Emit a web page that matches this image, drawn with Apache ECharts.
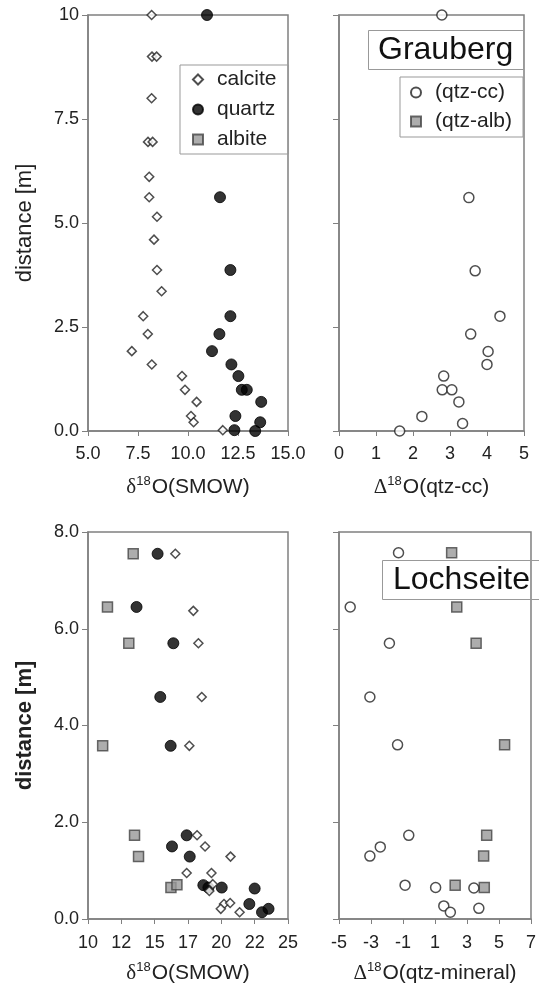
<!DOCTYPE html>
<html>
<head>
<meta charset="utf-8">
<script src="https://cdn.jsdelivr.net/npm/echarts@6/dist/echarts.min.js"></script>
<style>
  html, body { margin: 0; padding: 0; background: #fff; }
  #chart { width: 539px; height: 985px; }
</style>
</head>
<body>
<div id="chart"></div>
<script>
// Grauberg (top): [delta18O, distance]
const calciteTop = [[8.18,10],[8.2,9.0],[8.43,9.0],[8.18,8.0],[8.0,6.95],[8.23,6.95],[8.06,6.11],[8.06,5.62],[8.45,5.15],[8.3,4.6],[8.45,3.87],[8.68,3.36],[7.76,2.76],[7.99,2.33],[7.19,1.92],[8.19,1.6],[9.7,1.32],[9.85,0.99],[10.43,0.7],[10.15,0.36],[10.28,0.21],[11.74,0.02]];
const quartzTop = [[10.95,10],[11.6,5.62],[12.12,3.87],[12.12,2.76],[11.57,2.33],[11.2,1.92],[12.17,1.6],[12.52,1.32],[12.69,0.99],[12.94,0.99],[13.66,0.7],[12.37,0.36],[13.61,0.21],[12.32,0.02],[13.36,0.0]];
const qtzCcTop = [[2.78,10],[3.51,5.61],[3.68,3.85],[4.35,2.76],[3.56,2.33],[4.03,1.91],[4.0,1.6],[2.83,1.32],[2.79,0.99],[3.05,0.99],[3.24,0.7],[2.24,0.35],[3.34,0.18],[1.64,0.0]];

// Lochseite (bottom)
const calciteBot = [[16.55,7.55],[17.9,6.37],[18.28,5.7],[18.53,4.59],[17.6,3.58],[18.18,1.73],[18.78,1.5],[20.69,1.29],[17.4,0.95],[19.26,0.95],[19.36,0.72],[19.1,0.58],[20.2,0.31],[20.66,0.33],[19.96,0.21],[21.37,0.14]];
const quartzBot = [[15.22,7.55],[13.64,6.45],[16.4,5.7],[15.42,4.59],[16.2,3.58],[17.4,1.73],[16.3,1.5],[17.63,1.29],[18.65,0.7],[19.03,0.65],[20.03,0.65],[22.5,0.63],[22.1,0.31],[23.05,0.14],[23.54,0.21]];
const albiteBot = [[13.39,7.55],[11.46,6.45],[13.06,5.7],[11.1,3.58],[13.49,1.73],[13.79,1.29],[16.22,0.65],[16.67,0.71]];
const qtzCcBot = [[-1.28,7.57],[-4.3,6.45],[-1.85,5.7],[-3.07,4.59],[-1.34,3.6],[-0.64,1.73],[-2.42,1.49],[-3.07,1.3],[-0.87,0.7],[1.04,0.65],[3.43,0.64],[1.55,0.27],[1.96,0.14],[3.74,0.22]];
const qtzAlbBot = [[2.04,7.57],[2.36,6.45],[3.57,5.7],[5.35,3.6],[4.23,1.73],[4.04,1.3],[2.26,0.7],[4.08,0.65]];

const mineralLegend = ['calcite', 'quartz', 'albite'];
const deltaLegend = ['(qtz-cc)', '(qtz-alb)'];

const FONT = '"Liberation Sans", Arial, sans-serif';
const AXIS = '#808080';

const styles = {
  calcite: { symbol: 'diamond', symbolSize: 9, itemStyle: { color: '#fff', borderColor: '#222', borderWidth: 1.5 } },
  quartz: { symbol: 'circle', symbolSize: 11, itemStyle: { color: '#000', borderColor: '#000', borderWidth: 1 } },
  albite: { symbol: 'rect', symbolSize: 10, itemStyle: { color: '#999', borderColor: '#444', borderWidth: 1.5 } },
  '(qtz-cc)': { symbol: 'circle', symbolSize: 10, itemStyle: { color: '#fff', borderColor: '#222', borderWidth: 1.5 } },
  '(qtz-alb)': { symbol: 'rect', symbolSize: 10, itemStyle: { color: '#999', borderColor: '#444', borderWidth: 1.5 } }
};

function scatter(name, data, idx) {
  return Object.assign({
    name: name, type: 'scatter', data: data,
    xAxisIndex: idx, yAxisIndex: idx, clip: false
  }, styles[name]);
}

const nameRich = {
  a: { fontSize: 21, fontFamily: FONT, color: '#222' },
  g: { fontSize: 21, fontFamily: '"Liberation Serif", serif', color: '#222' },
  s: { fontSize: 13, fontFamily: FONT, color: '#222', padding: [0, 1, 12, 0] }
};

function xAxis(idx, min, max, interval, fmt, name, gap, margin) {
  return {
    gridIndex: idx, type: 'value', min: min, max: max, interval: interval,
    name: name, nameLocation: 'middle', nameGap: gap,
    nameTextStyle: { rich: nameRich },
    axisLine: { onZero: false, lineStyle: { color: AXIS, width: 1.5 } },
    axisTick: { show: true, length: 5, lineStyle: { color: AXIS } },
    axisLabel: { formatter: fmt, fontSize: 18, fontFamily: FONT, color: '#222', margin: margin },
    splitLine: { show: false }
  };
}

function yAxis(idx, max, interval, fmt, showLabels, name, bold) {
  return {
    gridIndex: idx, type: 'value', min: 0, max: max, interval: interval,
    name: name || '', nameLocation: 'middle', nameGap: 52,
    nameTextStyle: { fontSize: 22, fontFamily: FONT, color: '#222', fontWeight: bold ? 'bold' : 'normal' },
    axisLine: { onZero: false, lineStyle: { color: AXIS, width: 1.5 } },
    axisTick: { show: true, length: 6, lineStyle: { color: AXIS } },
    axisLabel: { show: showLabels, formatter: fmt, fontSize: 18, fontFamily: FONT, color: '#222', margin: 9 },
    splitLine: { show: false }
  };
}

const chart = echarts.init(document.getElementById('chart'), null, { renderer: 'canvas' });

const deltaName = '{g|δ}{s|18}{a|O(SMOW)}';
const gridBase = { show: true, borderColor: AXIS, borderWidth: 1.5, containLabel: false };
const legendText = { fontSize: 21, fontFamily: FONT, color: '#222', padding: [0, 0, 0, 9] };

chart.setOption({
  animation: false,
  backgroundColor: '#fff',
  grid: [
    Object.assign({ left: 88, top: 15, width: 200, height: 416 }, gridBase),
    Object.assign({ left: 339, top: 15, width: 185, height: 416 }, gridBase),
    Object.assign({ left: 88, top: 532, width: 200, height: 388 }, gridBase),
    Object.assign({ left: 339, top: 532, width: 196, height: 388 }, gridBase)
  ],
  xAxis: [
    xAxis(0, 5, 15, 2.5, v => v.toFixed(1), deltaName, 44, 14),
    xAxis(1, 0, 5, 1, v => String(v), '{g|Δ}{s|18}{a|O(qtz-cc)}', 44, 14),
    xAxis(2, 10, 25, 2.5, v => String(Math.floor(v)), deltaName, 42, 15),
    xAxis(3, -5, 7, 2, v => String(v), '{g|Δ}{s|18}{a|O(qtz-mineral)}', 42, 15)
  ],
  yAxis: [
    yAxis(0, 10, 2.5, v => (v === 10 ? '10' : v.toFixed(1)), true, 'distance [m]', false),
    yAxis(1, 10, 2.5, null, false),
    yAxis(2, 8, 2, v => v.toFixed(1), true, 'distance [m]', true),
    yAxis(3, 8, 2, null, false)
  ],
  title: [
    { text: 'Grauberg', left: 368, top: 30, padding: [4, 11, 4, 10], borderColor: '#999', borderWidth: 1,
      textStyle: { fontSize: 32, fontWeight: 'normal', fontFamily: FONT, color: '#111' } },
    { text: 'Lochseite', left: 382, top: 560, padding: [4, 14, 4, 11], borderColor: '#999', borderWidth: 1,
      textStyle: { fontSize: 32, fontWeight: 'normal', fontFamily: FONT, color: '#111' } }
  ],
  legend: [
    { data: mineralLegend, orient: 'vertical', left: 180, top: 65, itemWidth: 10, itemHeight: 10, itemGap: 9,
      padding: [4, 12, 4, 12], borderColor: '#999', borderWidth: 1, selectedMode: false,
      textStyle: legendText },
    { data: deltaLegend, orient: 'vertical', left: 400, top: 77, itemWidth: 10, itemHeight: 10, itemGap: 8,
      padding: [5, 11, 5, 10], borderColor: '#999', borderWidth: 1, selectedMode: false,
      textStyle: legendText }
  ],
  series: [
    scatter('albite', [], 0),
    scatter('quartz', quartzTop, 0),
    scatter('calcite', calciteTop, 0),
    scatter('(qtz-cc)', qtzCcTop, 1),
    scatter('albite', albiteBot, 2),
    scatter('quartz', quartzBot, 2),
    scatter('calcite', calciteBot, 2),
    scatter('(qtz-alb)', qtzAlbBot, 3),
    scatter('(qtz-cc)', qtzCcBot, 3)
  ]
});
</script>
</body>
</html>
